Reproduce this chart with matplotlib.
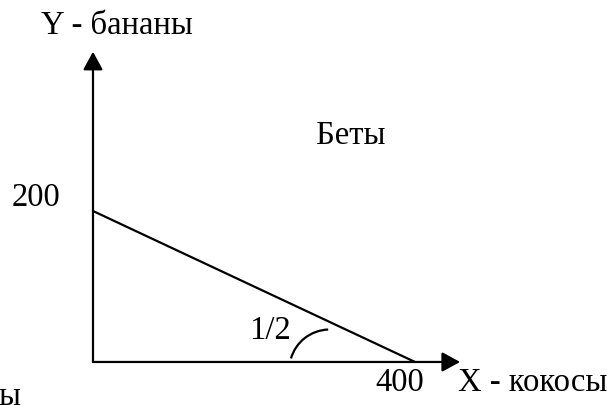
import matplotlib
matplotlib.use("Agg")
import matplotlib.pyplot as plt
from matplotlib.patches import Arc

# budget line: 200 bananas or 400 coconuts
line_x = [0, 400]
line_y = [200, 0]
x_max = 456
y_max = 411
slope_label = "1/2"


def main():
    plt.rcParams["font.family"] = ["Liberation Serif", "DejaVu Serif"]
    fig = plt.figure(figsize=(6.07, 4.05), dpi=100)
    ax = fig.add_axes([0, 0, 1, 1])
    ax.set_xlim(-115.5, 638.5)
    ax.set_ylim(-57, 479.5)
    ax.axis("off")

    arrow = dict(arrowstyle="-|>,head_length=0.55,head_width=0.3",
                 color="black", lw=1.6, mutation_scale=20, shrinkA=0, shrinkB=0)
    ax.annotate("", xy=(0, y_max), xytext=(0, 0), arrowprops=arrow)
    ax.annotate("", xy=(x_max, 0), xytext=(0, 0), arrowprops=arrow)

    ax.plot(line_x, line_y, color="black", lw=1.6, solid_capstyle="butt")

    # angle mark near the x intercept
    ax.add_patch(Arc((294, -10), 100, 106, theta1=92, theta2=163,
                     color="black", lw=1.6))

    fs = 23.5
    ax.text(30, 445, "Y - бананы", fontsize=fs, ha="center", va="center")
    ax.text(320, 300, "Беты", fontsize=fs, ha="center", va="center")
    ax.text(-71, 217, "200", fontsize=fs, ha="center", va="center")
    ax.text(381, -28, "400", fontsize=fs, ha="center", va="center")
    ax.text(453.4, -28, "X - кокосы", fontsize=fs, ha="left", va="center")
    ax.text(220, 41, slope_label, fontsize=fs, ha="center", va="center")
    ax.text(-104, -46, "ы", fontsize=fs, ha="center", va="center")

    fig.savefig("out.png", dpi=100)


if __name__ == "__main__":
    main()
